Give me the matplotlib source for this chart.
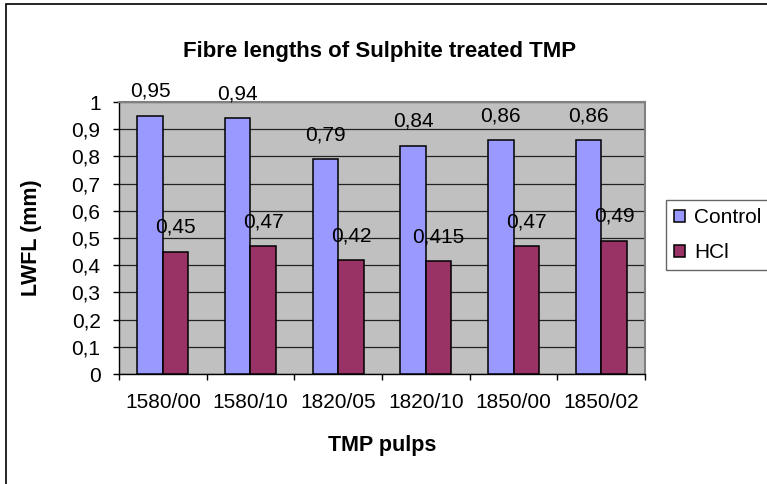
import numpy as np
import matplotlib
matplotlib.use('Agg')
import matplotlib.pyplot as plt
from matplotlib.patches import Rectangle

plt.rcParams['font.family'] = ['Liberation Sans', 'DejaVu Sans']

W, H = 767, 484

# data
pulps = ['1580/00', '1580/10', '1820/05', '1820/10', '1850/00', '1850/02']
control = [0.95, 0.94, 0.79, 0.84, 0.86, 0.86]
hcl = [0.45, 0.47, 0.42, 0.415, 0.47, 0.49]
control_labels = ['0,95', '0,94', '0,79', '0,84', '0,86', '0,86']
hcl_labels = ['0,45', '0,47', '0,42', '0,415', '0,47', '0,49']
y_ticks = [0, 0.1, 0.2, 0.3, 0.4, 0.5, 0.6, 0.7, 0.8, 0.9, 1.0]
y_ticklabels = ['0', '0,1', '0,2', '0,3', '0,4', '0,5', '0,6', '0,7', '0,8', '0,9', '1']

fig = plt.figure(figsize=(W / 100, H / 100), dpi=100)
fig.patch.set_facecolor('white')

# plot area in pixels: x 119..645, y 102..374
ax = fig.add_axes([119 / W, 1 - 374 / H, 526 / W, 272 / H])
ax.set_facecolor('#C0C0C0')

x = np.arange(len(pulps))
bw = 0.292
b1 = ax.bar(x - bw / 2, control, bw, color='#9999FF', edgecolor='black', linewidth=1.1,
            label='Control', zorder=3)
b2 = ax.bar(x + bw / 2, hcl, bw, color='#993366', edgecolor='black', linewidth=1.1,
            label='HCl', zorder=3)

for bars, labs in ((b1, control_labels), (b2, hcl_labels)):
    for r, lab in zip(bars, labs):
        ax.annotate(lab, (r.get_x() + r.get_width() / 2, r.get_height()),
                    xytext=(0, 13.5), textcoords='offset points',
                    ha='center', va='baseline', fontsize=15, annotation_clip=False)

ax.set_xlim(-0.5, len(pulps) - 0.5)
ax.set_ylim(0, 1)

ax.set_yticks(y_ticks)
ax.set_yticklabels(y_ticklabels, fontsize=15)
ax.tick_params(axis='y', length=4.3, width=1, pad=9, direction='out', color='black')

ax.set_xticks(x)
ax.set_xticklabels(pulps, fontsize=15)
ax.set_xticks(np.arange(len(pulps) + 1) - 0.5, minor=True)
ax.tick_params(axis='x', which='major', length=0, pad=14)
ax.tick_params(axis='x', which='minor', length=4.3, width=1, direction='out', color='black')

ax.yaxis.grid(True, color='#222222', linewidth=0.9, zorder=1)
ax.set_axisbelow(True)

for s in ('top', 'right'):
    ax.spines[s].set_color('#808080')
    ax.spines[s].set_linewidth(1.5)
for s in ('left', 'bottom'):
    ax.spines[s].set_color('black')
    ax.spines[s].set_linewidth(1)

ax.set_ylabel('LWFL (mm)', fontsize=15.5, fontweight='bold', labelpad=14)
ax.yaxis.set_label_coords(-(119 - 32) / 526, 0.5)
ax.set_xlabel('TMP pulps', fontsize=15.5, fontweight='bold')
ax.xaxis.set_label_coords(0.5, -(445 - 374) / 272)
ax.xaxis.label.set_va('center')
ax.yaxis.label.set_va('center')

fig.text(380 / W, 1 - 57 / H, 'Fibre lengths of Sulphite treated TMP',
         ha='center', va='baseline', fontsize=16, fontweight='bold')

leg = fig.legend(handles=[b1, b2], loc='upper left',
                 bbox_to_anchor=(666 / W, 1 - 200 / H), bbox_transform=fig.transFigure,
                 fontsize=15, frameon=True, fancybox=False, shadow=False,
                 handlelength=0.5, handleheight=0.5, handletextpad=0.45,
                 labelspacing=0.75, borderpad=0.4, borderaxespad=0)
leg.get_frame().set_edgecolor('#404040')
leg.get_frame().set_linewidth(1)

# outer chart frame
fig.patches.append(Rectangle((5.5 / W, -0.1), 2, 1.1 - 4.5 / H, transform=fig.transFigure,
                             fill=False, edgecolor='black', linewidth=1.2))

fig.savefig('out.png', dpi=100)
